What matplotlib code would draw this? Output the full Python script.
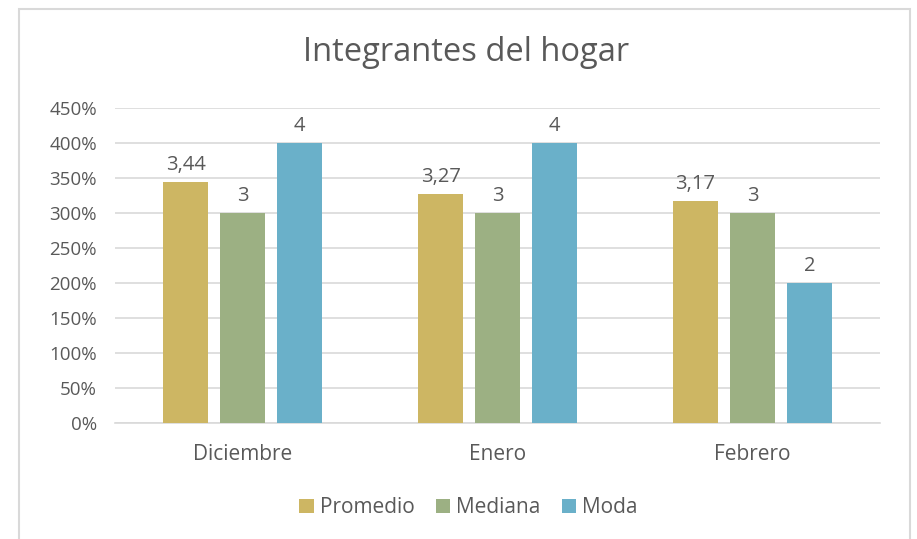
import numpy as np
import matplotlib
matplotlib.use("Agg")
from matplotlib import pyplot as plt
from matplotlib.patches import Rectangle
from matplotlib.ticker import FuncFormatter, MultipleLocator

# data
months = ['Diciembre', 'Enero', 'Febrero']
series_names = ['Promedio', 'Mediana', 'Moda']
promedio = [3.44, 3.27, 3.17]
mediana = [3, 3, 3]
moda = [4, 4, 2]
colors = ['#CDB663', '#9CB083', '#6AB0C9']

plt.rcParams['font.family'] = ['Open Sans', 'DejaVu Sans']
text_color = '#595959'

fig = plt.figure(figsize=(9.17, 5.39), dpi=100)
ax = fig.add_axes([0.1254, 0.2152, 0.8343, 0.5844])

x = np.arange(len(months))
width = 0.176
offsets = [-0.2235, 0, 0.2235]

for vals, name, col, off in zip([promedio, mediana, moda], series_names, colors, offsets):
    bars = ax.bar(x + off, vals, width, color=col, label=name, zorder=3)
    labels = [f'{v:g}'.replace('.', ',') for v in vals]
    ax.bar_label(bars, labels=labels, padding=5, fontsize=14.5, color=text_color)

ax.set_xlim(-0.5, 2.5)
ax.set_ylim(0, 4.5)
ax.yaxis.set_major_locator(MultipleLocator(0.5))
ax.yaxis.set_major_formatter(FuncFormatter(lambda v, p: f'{v*100:.0f}%'))
ax.grid(axis='y', color='#d9d9d9', linewidth=1.2, zorder=0)
ax.set_xticks(x)
ax.set_xticklabels(months)
ax.tick_params(axis='both', length=0, colors=text_color)
ax.tick_params(axis='x', pad=15, labelsize=15)
ax.tick_params(axis='y', pad=13, labelsize=13.5)
for s in ['top', 'right', 'left']:
    ax.spines[s].set_visible(False)
ax.spines['bottom'].set_color('#d9d9d9')
ax.spines['bottom'].set_linewidth(1.2)

fig.text(0.508, 0.903, 'Integrantes del hogar', ha='center', va='center',
         fontsize=23.5, color=text_color)

fig.legend(loc='center', bbox_to_anchor=(0.511, 0.058), ncol=3, frameon=False,
           fontsize=15, handlelength=0.7, handleheight=0.7, handletextpad=0.3,
           columnspacing=1.0, labelcolor=text_color)

# chart frame
fig.patches.append(Rectangle((19 / 917, -0.05), (910 - 19) / 917, 1.05 - 9 / 539,
                             transform=fig.transFigure, fill=False,
                             edgecolor='#d9d9d9', linewidth=1.5))

fig.savefig('out.png', dpi=100)
